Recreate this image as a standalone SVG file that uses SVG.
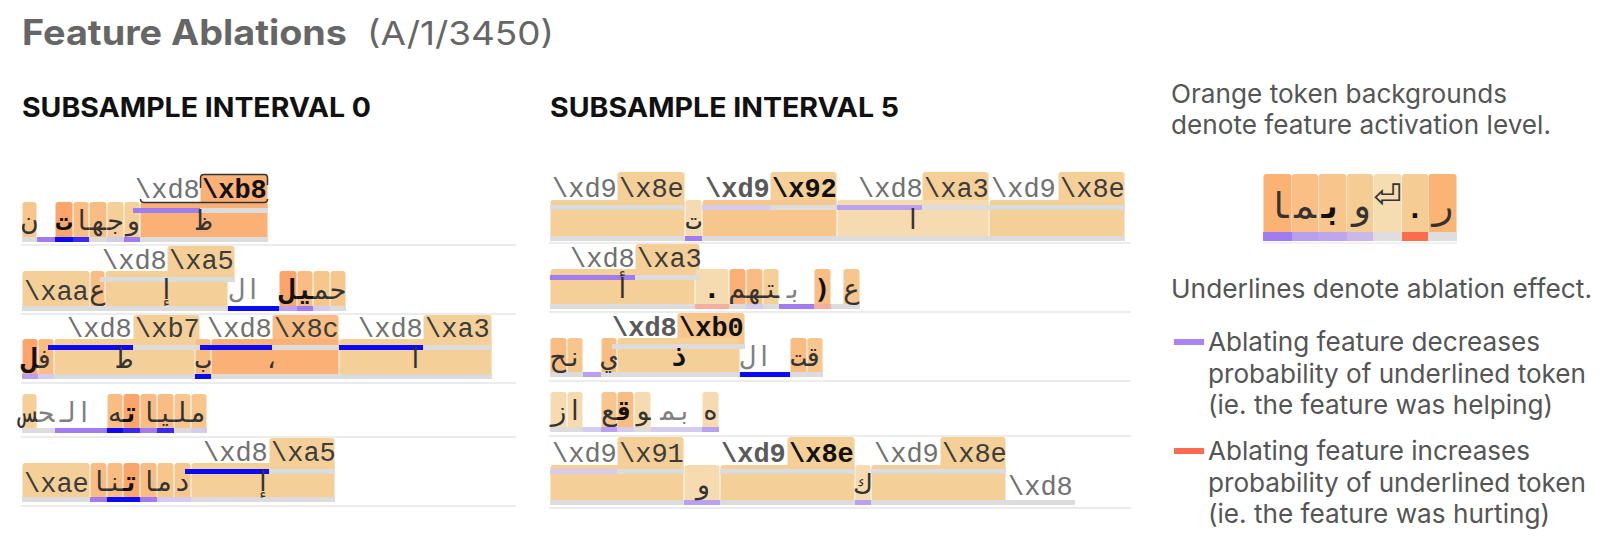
<svg xmlns="http://www.w3.org/2000/svg" width="1616" height="554" viewBox="0 0 1616 554">
<style>
.ch{rx:3px;ry:3px}
.d{fill:#fba56b}.s{fill:#fbb176}.m{fill:#f9bd83}.l{fill:#f7c68d}.k{fill:#f5cf98}.p{fill:#f5dbaf}
.ug{fill:#dcdcdc}.ub{fill:#0a0af6}.ub2{fill:#3a28f3}.up{fill:#a17cf1}.up2{fill:#b9a1ef}.up3{fill:#d5cbee}.us{fill:#f3ae9f}
.sep{stroke:#ececec;stroke-width:2}
.x{font-family:"Liberation Mono","DejaVu Sans Mono",monospace;font-size:27px;fill:#3c3c3c}
.xg{fill:#707070}
.xb{font-weight:bold;fill:#111}
.xbg{font-weight:bold;fill:#5a5a5a}
.a{font-family:"DejaVu Sans Mono","DejaVu Sans",sans-serif;font-size:27px;fill:#333;text-anchor:middle}
.ab{font-weight:bold;fill:#111}
.ag{fill:#808080}
.ui{font-family:Inter,"Liberation Sans",sans-serif}
.lg{font-family:Inter,"Liberation Sans",sans-serif;font-size:26px;fill:#555}
.la{font-size:36px}
</style>
<rect width="1616" height="554" fill="#fff"/>
<g id="title">
<text class="ui" x="22" y="45" font-size="35" font-weight="700" fill="#666" textLength="325" lengthAdjust="spacingAndGlyphs">Feature Ablations</text>
<text class="ui" x="367" y="45" font-size="33" fill="#666" textLength="187" lengthAdjust="spacingAndGlyphs">(A/1/3450)</text>
</g>
<g id="heading-0"><text class="ui" x="22" y="117" font-size="27" font-weight="700" fill="#111" textLength="349" lengthAdjust="spacingAndGlyphs">SUBSAMPLE INTERVAL 0</text></g>
<g id="heading-5"><text class="ui" x="550" y="117" font-size="27" font-weight="700" fill="#111" textLength="349" lengthAdjust="spacingAndGlyphs">SUBSAMPLE INTERVAL 5</text></g>

<!-- LEFT PANEL -->
<g id="l-row1">
<rect class="ch s" x="200.5" y="175" width="67" height="38"/>
<rect class="ch l" x="22.5" y="202" width="14" height="40"/>
<rect class="ch d" x="55.5" y="202" width="17" height="40"/>
<rect class="ch m" x="73.5" y="202" width="15" height="40"/>
<rect class="ch m" x="89.5" y="202" width="17" height="40"/>
<rect class="ch k" x="107.5" y="202" width="16" height="40"/>
<rect class="ch k" x="124.5" y="202" width="15" height="40"/>
<rect class="ch s" x="140.5" y="202" width="127" height="40"/>
<rect class="up" x="133" y="208" width="67" height="5"/><rect class="ug" x="200" y="208" width="68" height="5"/>
<rect class="ug" x="22" y="237" width="15" height="5"/><rect class="up" x="37" y="237" width="18" height="5"/><rect class="ub" x="55" y="237" width="18" height="5"/><rect class="ub2" x="73" y="237" width="16" height="5"/><rect class="ug" x="89" y="237" width="18" height="5"/><rect class="up3" x="107" y="237" width="17" height="5"/><rect class="up" x="124" y="237" width="16" height="5"/><rect class="ug" x="140" y="237" width="128" height="5"/>
<path d="M200.5 188V178Q200.5 174.5 204 174.5H264.5Q267.5 174.5 267.5 178V185M140.5 199Q140.5 202.5 144 202.5H264Q267.5 202.5 267.5 199" fill="none" stroke="#333" stroke-width="1.5"/>
<text class="x xg" x="135" y="198">\xd8</text><text class="x xb" x="202" y="198">\xb8</text>
<text class="a" x="29.5" y="230">ن</text><text class="a ab" x="64" y="230">ت</text><text class="a" x="81" y="230">&#x200D;ا</text><text class="a" x="98" y="230">&#x200D;ه&#x200D;</text><text class="a" x="115.5" y="230">ج&#x200D;</text><text class="a" x="132" y="230">و</text><text class="a" x="204" y="230">ظ</text>
</g>
<g id="l-row2">
<rect class="ch k" x="167.5" y="246" width="67" height="36"/>
<rect class="ch k" x="22.5" y="271" width="67" height="40"/>
<rect class="ch m" x="90.5" y="271" width="14" height="40"/>
<rect class="ch k" x="105.5" y="271" width="122" height="40"/>
<rect class="ch d" x="279.5" y="271" width="17" height="40"/>
<rect class="ch m" x="297.5" y="271" width="15" height="40"/>
<rect class="ch l" x="313.5" y="271" width="16" height="40"/>
<rect class="ch l" x="330.5" y="271" width="15" height="40"/>
<rect class="ug" x="100" y="277" width="135" height="5"/>
<rect class="ug" x="22" y="306" width="206" height="5"/><rect class="ub" x="228" y="306" width="51" height="5"/><rect class="up2" x="279" y="306" width="18" height="5"/><rect class="up" x="297" y="306" width="16" height="5"/><rect class="up3" x="313" y="306" width="17" height="5"/><rect class="ug" x="330" y="306" width="16" height="5"/>
<text class="x xg" x="102" y="269">\xd8</text><text class="x" x="169" y="269">\xa5</text><text class="x" x="24" y="300">\xaa</text>
<text class="a" x="97.5" y="299">ع</text><text class="a" x="166.5" y="299">إ</text><text class="a ag" x="245" y="299">ال</text><text class="a ab" x="288" y="299">&#x200D;ل</text><text class="a ab" x="305" y="299">&#x200D;ي&#x200D;</text><text class="a" x="321.5" y="299">&#x200D;م&#x200D;</text><text class="a" x="338" y="299">ح&#x200D;</text>
</g>
<g id="l-row3">
<rect class="ch k" x="133.5" y="315" width="66" height="35"/>
<rect class="ch m" x="272.5" y="315" width="66" height="35"/>
<rect class="ch k" x="423.5" y="315" width="68" height="35"/>
<rect class="ch d" x="22.5" y="339" width="15" height="40"/>
<rect class="ch m" x="38.5" y="339" width="15" height="40"/>
<rect class="ch k" x="54.5" y="339" width="140" height="40"/>
<rect class="ch m" x="195.5" y="339" width="15" height="40"/>
<rect class="ch s" x="211.5" y="339" width="127" height="40"/>
<rect class="ch k" x="339.5" y="339" width="152" height="40"/>
<rect class="ub" x="48" y="345" width="85" height="5"/><rect class="ug" x="133" y="345" width="67" height="5"/><rect class="ub" x="200" y="345" width="72" height="5"/><rect class="ug" x="272" y="345" width="67" height="5"/><rect class="ub" x="339" y="345" width="84" height="5"/><rect class="ug" x="423" y="345" width="69" height="5"/>
<rect class="up2" x="22" y="374" width="16" height="5"/><rect class="up3" x="38" y="374" width="16" height="5"/><rect class="ug" x="54" y="374" width="141" height="5"/><rect class="ub" x="195" y="374" width="16" height="5"/><rect class="ug" x="211" y="374" width="281" height="5"/>
<text class="x xg" x="67" y="337">\xd8</text><text class="x" x="135" y="337">\xb7</text><text class="x xg" x="207" y="337">\xd8</text><text class="x" x="274" y="337">\x8c</text><text class="x xg" x="358" y="337">\xd8</text><text class="x" x="425" y="337">\xa3</text>
<text class="a ab" x="30" y="368">&#x200D;ل</text><text class="a" x="46" y="368">ف&#x200D;</text><text class="a" x="124.5" y="368">ط</text><text class="a" x="203" y="368">ب</text><text class="a" x="272" y="368">،</text><text class="a" x="415.5" y="368">ا</text>
</g>
<g id="l-row4">
<rect class="ch k" x="22.5" y="394" width="14" height="39"/>
<rect class="ch m" x="107.5" y="394" width="15" height="39"/>
<rect class="ch d" x="123.5" y="394" width="16" height="39"/>
<rect class="ch m" x="140.5" y="394" width="16" height="39"/>
<rect class="ch m" x="157.5" y="394" width="16" height="39"/>
<rect class="ch l" x="174.5" y="394" width="16" height="39"/>
<rect class="ch l" x="191.5" y="394" width="15" height="39"/>
<rect class="ug" x="22" y="428" width="33" height="5"/><rect class="up" x="55" y="428" width="52" height="5"/><rect class="ub" x="107" y="428" width="16" height="5"/><rect class="ub2" x="123" y="428" width="17" height="5"/><rect class="up" x="140" y="428" width="17" height="5"/><rect class="ub2" x="157" y="428" width="17" height="5"/><rect class="ug" x="174" y="428" width="17" height="5"/><rect class="up3" x="191" y="428" width="16" height="5"/>
<text class="a" x="29.5" y="422">&#x200D;س</text><text class="a ag" x="46" y="422">&#x200D;ح&#x200D;</text><text class="a ag" x="76" y="422">ال&#x200D;</text><text class="a" x="115" y="422">&#x200D;ه</text><text class="a ab" x="131.5" y="422">ت&#x200D;</text><text class="a" x="148.5" y="422">&#x200D;ا</text><text class="a" x="165.5" y="422">&#x200D;ي&#x200D;</text><text class="a" x="182.5" y="422">&#x200D;ل&#x200D;</text><text class="a" x="199" y="422">م&#x200D;</text>
</g>
<g id="l-row5">
<rect class="ch k" x="269.5" y="438" width="65" height="36"/>
<rect class="ch k" x="22.5" y="463" width="67" height="39"/>
<rect class="ch m" x="90.5" y="463" width="16" height="39"/>
<rect class="ch m" x="107.5" y="463" width="15" height="39"/>
<rect class="ch d" x="123.5" y="463" width="16" height="39"/>
<rect class="ch m" x="140.5" y="463" width="16" height="39"/>
<rect class="ch l" x="157.5" y="463" width="16" height="39"/>
<rect class="ch l" x="174.5" y="463" width="16" height="39"/>
<rect class="ch k" x="191.5" y="463" width="143" height="39"/>
<rect class="ub" x="185" y="469" width="84" height="5"/><rect class="ug" x="269" y="469" width="66" height="5"/>
<rect class="ug" x="22" y="497" width="68" height="5"/><rect class="up" x="90" y="497" width="17" height="5"/><rect class="ub" x="107" y="497" width="33" height="5"/><rect class="up" x="140" y="497" width="17" height="5"/><rect class="up3" x="157" y="497" width="34" height="5"/><rect class="ug" x="191" y="497" width="144" height="5"/>
<text class="x xg" x="203" y="461">\xd8</text><text class="x" x="271" y="461">\xa5</text><text class="x" x="24" y="492">\xae</text>
<text class="a" x="98.5" y="491">&#x200D;ا</text><text class="a" x="115" y="491">&#x200D;ن&#x200D;</text><text class="a ab" x="131.5" y="491">ت&#x200D;</text><text class="a" x="148.5" y="491">&#x200D;ا</text><text class="a" x="165.5" y="491">م&#x200D;</text><text class="a" x="182.5" y="491">د</text><text class="a" x="263" y="491">إ</text>
</g>
<g id="l-separators">
<line class="sep" x1="21" y1="245" x2="516" y2="245"/><line class="sep" x1="21" y1="314" x2="516" y2="314"/><line class="sep" x1="21" y1="383" x2="516" y2="383"/><line class="sep" x1="21" y1="437" x2="516" y2="437"/><line class="sep" x1="21" y1="506" x2="516" y2="506"/>
</g>

<!-- RIGHT PANEL -->
<g id="r-row1">
<rect class="ch k" x="617.5" y="172" width="67" height="38"/>
<rect class="ch k" x="770.5" y="172" width="66" height="38"/>
<rect class="ch k" x="922.5" y="172" width="66" height="38"/>
<rect class="ch k" x="1058.5" y="172" width="66" height="38"/>
<rect class="ch k" x="550.5" y="200" width="134" height="41"/>
<rect class="ch p" x="685.5" y="200" width="16" height="41"/>
<rect class="ch l" x="702.5" y="200" width="134" height="41"/>
<rect class="ch p" x="837.5" y="200" width="151" height="41"/>
<rect class="ch k" x="989.5" y="200" width="135" height="41"/>
<rect class="ug" x="550" y="205" width="135" height="5"/><rect class="up3" x="702" y="205" width="68" height="5"/><rect class="ug" x="770" y="205" width="67" height="5"/><rect class="up2" x="837" y="205" width="85" height="5"/><rect class="ug" x="922" y="205" width="203" height="5"/>
<rect class="ug" x="550" y="236" width="135" height="5"/><rect class="up" x="685" y="236" width="17" height="5"/><rect class="ug" x="702" y="236" width="423" height="5"/>
<text class="x xg" x="552" y="197">\xd9</text><text class="x" x="619" y="197">\x8e</text><text class="x xbg" x="705" y="197">\xd9</text><text class="x xb" x="772" y="197">\x92</text><text class="x xg" x="858" y="197">\xd8</text><text class="x" x="924" y="197">\xa3</text><text class="x xg" x="991" y="197">\xd9</text><text class="x" x="1060" y="197">\x8e</text>
<text class="a" x="693.5" y="229">ت</text><text class="a" x="913" y="229">ا</text>
</g>
<g id="r-row2">
<rect class="ch k" x="635.5" y="244" width="64" height="36"/>
<rect class="ch k" x="550.5" y="269" width="144" height="40"/>
<rect class="ch p" x="695.5" y="269" width="33" height="40"/>
<rect class="ch s" x="729.5" y="269" width="16" height="40"/>
<rect class="ch m" x="746.5" y="269" width="16" height="40"/>
<rect class="ch k" x="763.5" y="269" width="15" height="40"/>
<rect class="ch m" x="814.5" y="269" width="16" height="40"/>
<rect class="ch l" x="843.5" y="269" width="16" height="40"/>
<rect class="up" x="550" y="275" width="85" height="5"/><rect class="ug" x="635" y="275" width="65" height="5"/>
<rect class="ug" x="550" y="304" width="145" height="5"/><rect class="us" x="695" y="304" width="34" height="5"/><rect class="ug" x="729" y="304" width="17" height="5"/><rect class="up3" x="746" y="304" width="17" height="5"/><rect class="ug" x="763" y="304" width="16" height="5"/><rect class="up" x="779" y="304" width="35" height="5"/><rect class="us" x="814" y="304" width="17" height="5"/><rect class="ug" x="831" y="304" width="29" height="5"/>
<text class="x xg" x="570" y="267">\xd8</text><text class="x" x="637" y="267">\xa3</text>
<text class="a" x="622.5" y="298">أ</text><text class="a ab" x="712" y="298">.</text><text class="a" x="737.5" y="298">&#x200D;م</text><text class="a" x="754.5" y="298">&#x200D;ه&#x200D;</text><text class="a" x="771" y="298">&#x200D;ت&#x200D;</text><text class="a ag" x="795" y="298">ب&#x200D;</text><text class="a ab" x="822.5" y="298">)</text><text class="a" x="851.5" y="298">ع</text>
</g>
<g id="r-row3">
<rect class="ch l" x="677.5" y="313" width="67" height="36"/>
<rect class="ch m" x="550.5" y="338" width="16" height="39"/>
<rect class="ch l" x="567.5" y="338" width="15" height="39"/>
<rect class="ch m" x="601.5" y="338" width="15" height="39"/>
<rect class="ch k" x="617.5" y="338" width="122" height="39"/>
<rect class="ch m" x="790.5" y="338" width="16" height="39"/>
<rect class="ch l" x="807.5" y="338" width="15" height="39"/>
<rect class="ug" x="612" y="344" width="133" height="5"/>
<rect class="ug" x="550" y="372" width="33" height="5"/><rect class="up2" x="583" y="372" width="18" height="5"/><rect class="ug" x="601" y="372" width="139" height="5"/><rect class="ub" x="740" y="372" width="50" height="5"/><rect class="ug" x="790" y="372" width="33" height="5"/>
<text class="x xbg" x="612" y="336">\xd8</text><text class="x xb" x="679" y="336">\xb0</text>
<text class="a" x="558.5" y="366">&#x200D;ح</text><text class="a" x="575" y="366">ن&#x200D;</text><text class="a" x="609" y="366">ي</text><text class="a ab" x="678.5" y="366">ذ</text><text class="a ag" x="756" y="366">ال</text><text class="a" x="798.5" y="366">&#x200D;ت</text><text class="a" x="815" y="366">ق&#x200D;</text>
</g>
<g id="r-row4">
<rect class="ch p" x="550.5" y="392" width="16" height="40"/>
<rect class="ch p" x="567.5" y="392" width="15" height="40"/>
<rect class="ch l" x="601.5" y="392" width="15" height="40"/>
<rect class="ch m" x="617.5" y="392" width="16" height="40"/>
<rect class="ch p" x="634.5" y="392" width="16" height="40"/>
<rect class="ch p" x="702.5" y="392" width="16" height="40"/>
<rect class="ug" x="550" y="427" width="33" height="5"/><rect class="up3" x="583" y="427" width="18" height="5"/><rect class="up2" x="601" y="427" width="16" height="5"/><rect class="up3" x="617" y="427" width="17" height="5"/><rect class="ug" x="634" y="427" width="17" height="5"/><rect class="up3" x="651" y="427" width="51" height="5"/><rect class="up2" x="702" y="427" width="17" height="5"/>
<text class="a" x="558.5" y="420">ز</text><text class="a" x="575" y="420">ا</text><text class="a" x="609" y="420">&#x200D;ع</text><text class="a ab" x="625.5" y="420">ق&#x200D;</text><text class="a" x="642.5" y="420">&#x200D;و</text><text class="a ag" x="676.5" y="420">بم&#x200D;</text><text class="a" x="710.5" y="420">ه</text>
</g>
<g id="r-row5">
<rect class="ch k" x="617.5" y="437" width="66" height="37"/>
<rect class="ch k" x="787.5" y="437" width="67" height="37"/>
<rect class="ch k" x="940.5" y="437" width="65" height="37"/>
<rect class="ch k" x="550.5" y="465" width="133" height="40"/>
<rect class="ch p" x="684.5" y="465" width="35" height="40"/>
<rect class="ch k" x="720.5" y="465" width="134" height="40"/>
<rect class="ch p" x="855.5" y="465" width="15" height="40"/>
<rect class="ch k" x="871.5" y="465" width="134" height="40"/>
<rect class="up3" x="550" y="469" width="67" height="5"/><rect class="ug" x="617" y="469" width="67" height="5"/><rect class="ug" x="720" y="469" width="135" height="5"/><rect class="ug" x="871" y="469" width="135" height="5"/>
<rect class="ug" x="550" y="500" width="134" height="5"/><rect class="up2" x="684" y="500" width="36" height="5"/><rect class="ug" x="720" y="500" width="135" height="5"/><rect class="up2" x="855" y="500" width="16" height="5"/><rect class="ug" x="871" y="500" width="204" height="5"/>
<text class="x xg" x="552" y="462">\xd9</text><text class="x" x="619" y="462">\x91</text><text class="x xbg" x="721" y="462">\xd9</text><text class="x xb" x="789" y="462">\x8e</text><text class="x xg" x="874" y="462">\xd9</text><text class="x" x="942" y="462">\x8e</text><text class="x xg" x="1008" y="495">\xd8</text>
<text class="a" x="702" y="494">و</text><text class="a" x="863" y="494">ك</text>
</g>
<g id="r-separators">
<line class="sep" x1="549" y1="243" x2="1131" y2="243"/><line class="sep" x1="549" y1="312" x2="1131" y2="312"/><line class="sep" x1="549" y1="381" x2="1131" y2="381"/><line class="sep" x1="549" y1="436" x2="1131" y2="436"/><line class="sep" x1="549" y1="508" x2="1131" y2="508"/>
</g>

<!-- LEGEND -->
<g id="legend">
<text class="lg" x="1171" y="103" textLength="336" lengthAdjust="spacingAndGlyphs">Orange token backgrounds</text>
<text class="lg" x="1171" y="134" textLength="380" lengthAdjust="spacingAndGlyphs">denote feature activation level.</text>
<g id="legend-tokens">
<rect class="ch" x="1263.5" y="174" width="28" height="62" fill="#fcb273"/>
<rect class="ch" x="1292" y="174" width="26" height="62" fill="#f9bf85"/>
<rect class="ch" x="1318.5" y="174" width="28" height="62" fill="#f8c68d"/>
<rect class="ch" x="1347" y="174" width="26" height="62" fill="#f6cc95"/>
<rect class="ch" x="1373.5" y="174" width="28" height="62" fill="#f5dcb1"/>
<rect class="ch" x="1402" y="174" width="26" height="62" fill="#f5cc94"/>
<rect class="ch" x="1428.5" y="174" width="28" height="62" fill="#fcb474"/>
<rect x="1263" y="232" width="29" height="9" fill="#a17cf0"/><rect x="1292" y="232" width="26" height="9" fill="#b9a0ef"/><rect x="1318" y="232" width="29" height="9" fill="#bda7ec"/><rect x="1347" y="232" width="26" height="9" fill="#cab8e9"/><rect x="1373" y="232" width="29" height="9" fill="#dedede"/><rect x="1402" y="232" width="26" height="9" fill="#fb6c4e"/><rect x="1428" y="232" width="29" height="9" fill="#dedede"/>
<line x1="1263" y1="243" x2="1457" y2="243" stroke="#f1f1f1" stroke-width="2"/>
<text class="a la" x="1277.5" y="218">&#x200D;ا</text><text class="a la" x="1305" y="218">&#x200D;م&#x200D;</text><text class="a ab la" x="1332.5" y="218">ب&#x200D;</text><text class="a la" x="1360" y="218">و</text><text x="1387.5" y="208" font-family="'DejaVu Sans',sans-serif" font-size="34" fill="#333" text-anchor="middle">⏎</text><text class="a ab" x="1415" y="218" font-size="44">.</text><text class="a la" x="1442.5" y="218">ر</text>
</g>
<text class="lg" x="1171" y="298" textLength="421" lengthAdjust="spacingAndGlyphs">Underlines denote ablation effect.</text>
<rect x="1174" y="339" width="30" height="6" fill="#a884f4"/>
<text class="lg" x="1208" y="351" textLength="332" lengthAdjust="spacingAndGlyphs">Ablating feature decreases</text>
<text class="lg" x="1208" y="383" textLength="378" lengthAdjust="spacingAndGlyphs">probability of underlined token</text>
<text class="lg" x="1208" y="414" textLength="345" lengthAdjust="spacingAndGlyphs">(ie. the feature was helping)</text>
<rect x="1174" y="448" width="30" height="6" fill="#fb6c4e"/>
<text class="lg" x="1208" y="460" textLength="322" lengthAdjust="spacingAndGlyphs">Ablating feature increases</text>
<text class="lg" x="1208" y="492" textLength="378" lengthAdjust="spacingAndGlyphs">probability of underlined token</text>
<text class="lg" x="1208" y="523" textLength="342" lengthAdjust="spacingAndGlyphs">(ie. the feature was hurting)</text>
</g>
</svg>
